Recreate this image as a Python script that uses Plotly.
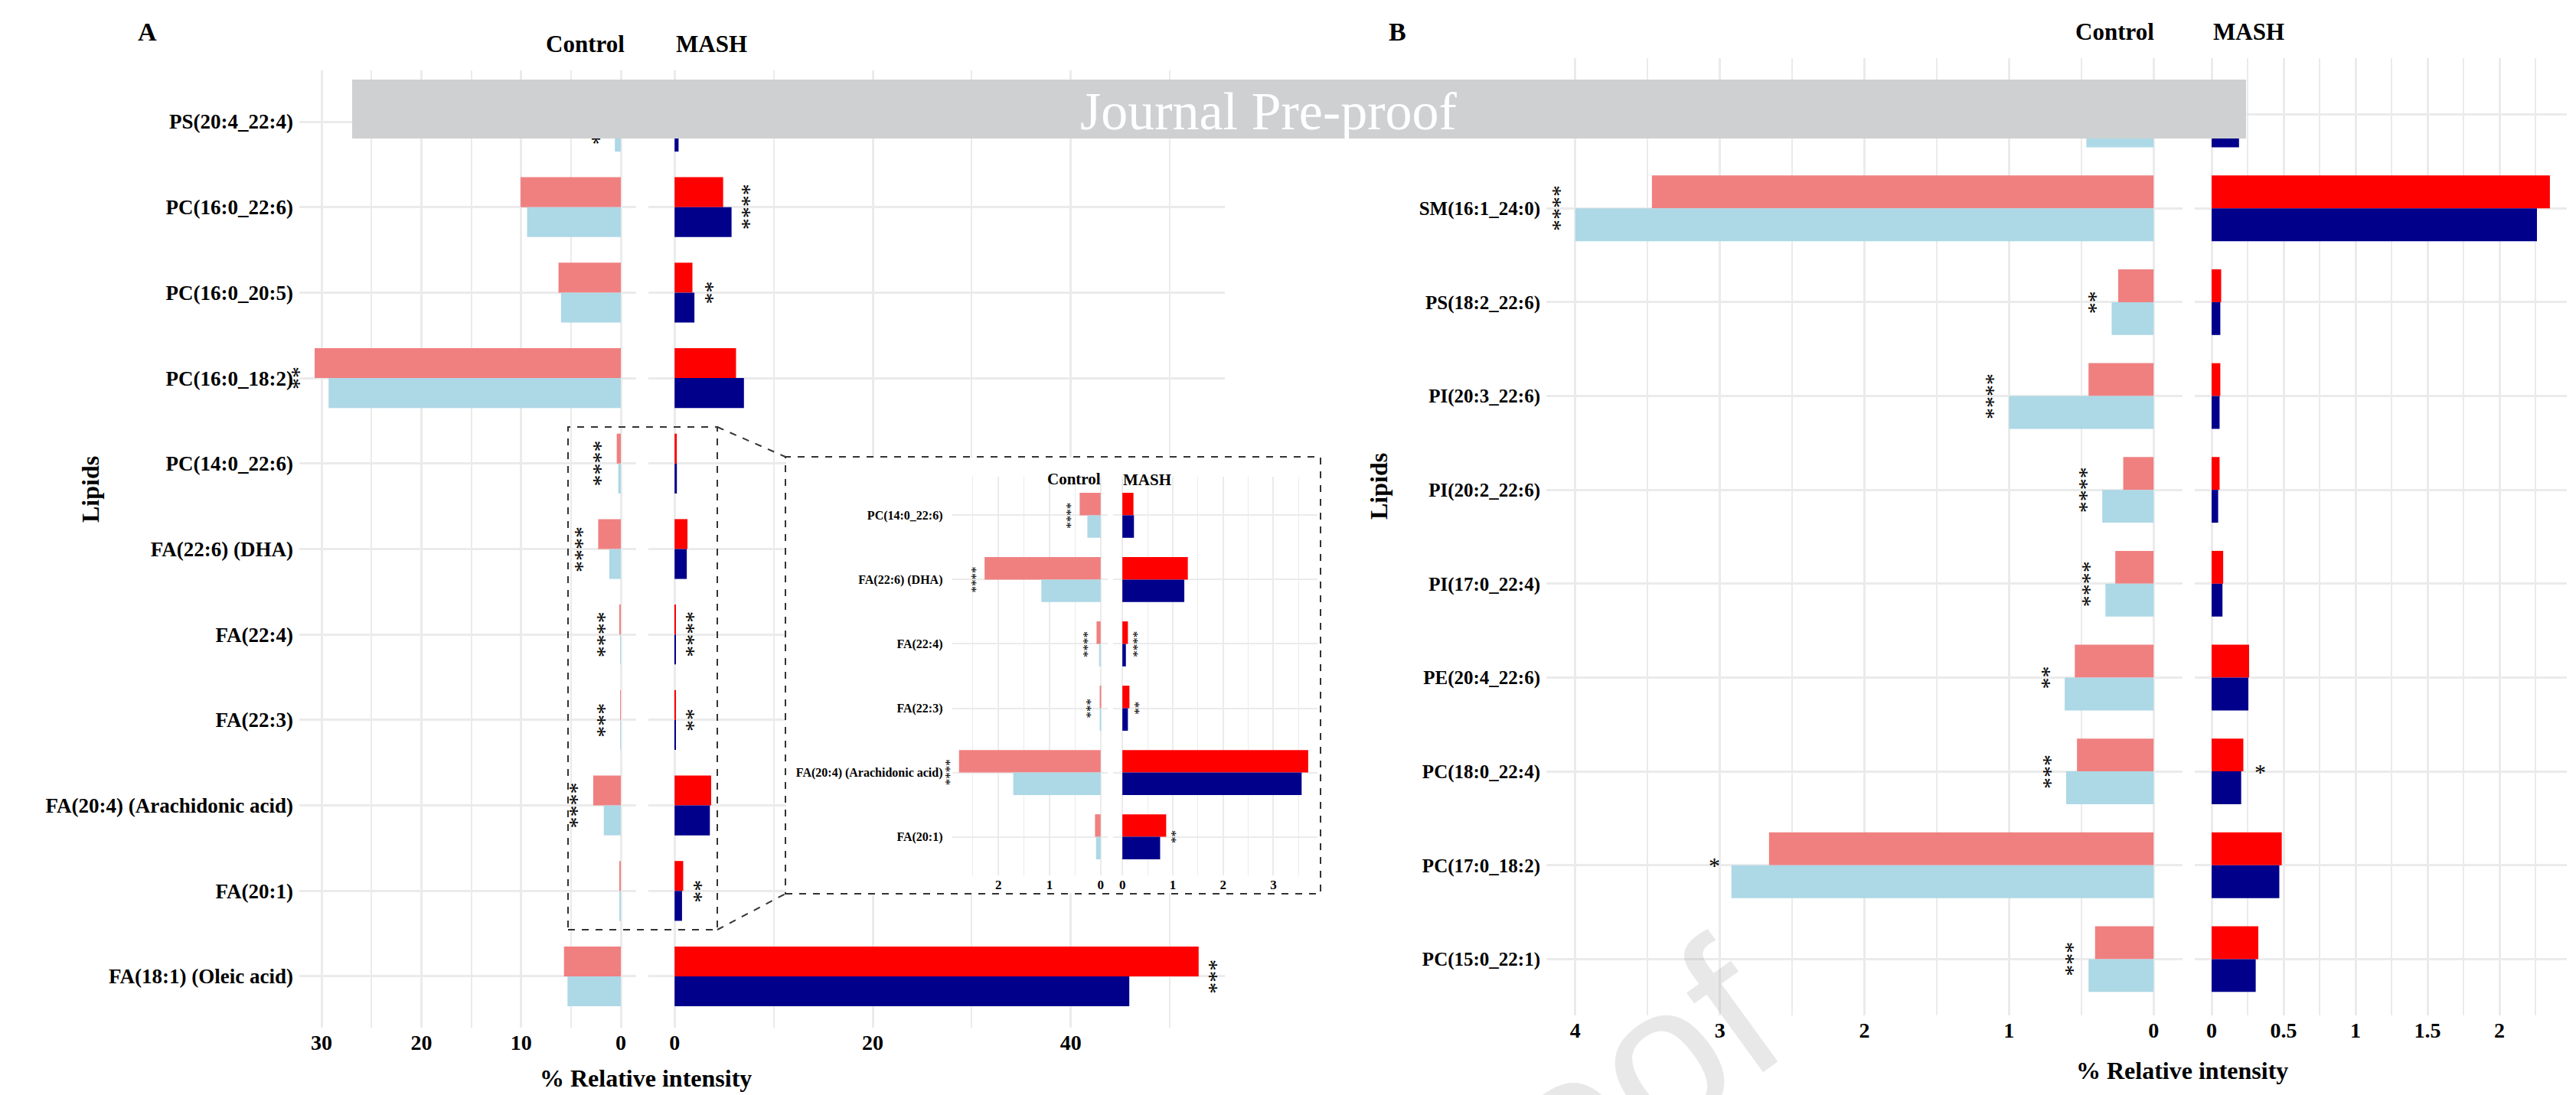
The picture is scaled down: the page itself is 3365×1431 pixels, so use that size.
import plotly.graph_objects as go

W, H = 3365, 1431
FONT = "Liberation Serif"
GRID = "#EBEBEB"
C_SALMON, C_LBLUE, C_RED, C_DBLUE = "#F08080", "#ADD8E6", "#FF0000", "#00008B"

# ---------------- Panel A data (top to bottom) ----------------
lipids_a = ["PS(20:4_22:4)", "PC(16:0_22:6)", "PC(16:0_20:5)", "PC(16:0_18:2)", "PC(14:0_22:6)",
            "FA(22:6) (DHA)", "FA(22:4)", "FA(22:3)", "FA(20:4) (Arachidonic acid)", "FA(20:1)",
            "FA(18:1) (Oleic acid)"]
ctrl_a_1 = [0.5, 10.05, 6.25, 30.7, 0.41, 2.27, 0.08, 0.012, 2.77, 0.11, 5.7]
ctrl_a_2 = [0.6, 9.4, 6.0, 29.3, 0.26, 1.16, 0.03, 0.006, 1.71, 0.09, 5.35]
mash_a_1 = [0.3, 4.9, 1.8, 6.2, 0.22, 1.30, 0.11, 0.14, 3.69, 0.87, 52.9]
mash_a_2 = [0.4, 5.75, 2.0, 7.0, 0.23, 1.23, 0.07, 0.11, 3.56, 0.75, 45.9]
sig_ctrl_a = ["****", "", "", "**", "****", "****", "****", "***", "****", "", ""]
sig_mash_a = ["", "****", "**", "", "", "", "****", "**", "", "**", "***"]
inset_idx = [4, 5, 6, 7, 8, 9]

# ---------------- Panel B data (top to bottom) ----------------
lipids_b = ["PS(20:4_22:6)", "SM(16:1_24:0)", "PS(18:2_22:6)", "PI(20:3_22:6)", "PI(20:2_22:6)",
            "PI(17:0_22:4)", "PE(20:4_22:6)", "PC(18:0_22:4)", "PC(17:0_18:2)", "PC(15:0_22:1)"]
ctrl_b_1 = [0.35, 3.47, 0.245, 0.45, 0.21, 0.265, 0.545, 0.53, 2.66, 0.405]
ctrl_b_2 = [0.465, 4.0, 0.29, 1.0, 0.355, 0.333, 0.615, 0.605, 2.92, 0.45]
mash_b_1 = [0.15, 2.35, 0.066, 0.06, 0.055, 0.08, 0.26, 0.22, 0.487, 0.324]
mash_b_2 = [0.19, 2.26, 0.06, 0.055, 0.045, 0.075, 0.255, 0.205, 0.47, 0.306]
sig_ctrl_b = ["", "****", "**", "****", "****", "****", "**", "***", "*", "***"]
sig_mash_b = ["", "", "", "", "", "", "", "*", "", ""]


def px(x):
    return x / W


def py(y):
    return 1 - y / H


def bold(size, color="black"):
    return dict(family=FONT, size=size, color=color, weight="bold")


def xrange_rev(vals):
    m = max(vals)
    return [m * 1.05, -0.05 * m]


def xrange_fwd(vals):
    m = max(vals)
    return [-0.05 * m, m * 1.05]


def xax(dom, rng, dtick, anchor, size=28, gw=3, mgw=2):
    return dict(domain=[px(dom[0]), px(dom[1])], range=rng, tickmode="linear", tick0=0, dtick=dtick,
                showgrid=True, gridcolor=GRID, gridwidth=gw,
                minor=dict(tickmode="linear", tick0=0, dtick=dtick / 2, showgrid=True,
                           gridcolor=GRID, gridwidth=mgw),
                zeroline=False, showline=False, ticks="", anchor=anchor,
                tickfont=bold(size), fixedrange=True)


def yax(dom, cats, anchor, show, size=27, gw=3, standoff=7):
    n = len(cats)
    return dict(domain=[py(dom[1]), py(dom[0])], type="category", categoryorder="array",
                categoryarray=cats, range=[n - 1 + 0.6, -0.6], showgrid=True, gridcolor=GRID,
                gridwidth=gw, zeroline=False, showline=False, ticks="", showticklabels=show,
                anchor=anchor, tickfont=bold(size), fixedrange=True, ticklabelstandoff=standoff)


fig = go.Figure()


def add_pair(cats, v1, v2, c1, c2, xa, ya):
    fig.add_trace(go.Bar(y=cats, x=v1, orientation="h", marker=dict(color=c1, line=dict(width=0)),
                         xaxis=xa, yaxis=ya, showlegend=False))
    fig.add_trace(go.Bar(y=cats, x=v2, orientation="h", marker=dict(color=c2, line=dict(width=0)),
                         xaxis=xa, yaxis=ya, showlegend=False))


ins_cats = [lipids_a[i] for i in inset_idx]
ins_c1 = [ctrl_a_1[i] for i in inset_idx]
ins_c2 = [ctrl_a_2[i] for i in inset_idx]
ins_m1 = [mash_a_1[i] for i in inset_idx]
ins_m2 = [mash_a_2[i] for i in inset_idx]
ins_sc = [sig_ctrl_a[i] for i in inset_idx]
ins_sm = [sig_mash_a[i] for i in inset_idx]

add_pair(lipids_a, ctrl_a_1, ctrl_a_2, C_SALMON, C_LBLUE, "x", "y")
add_pair(lipids_a, mash_a_1, mash_a_2, C_RED, C_DBLUE, "x2", "y2")
add_pair(lipids_b, ctrl_b_1, ctrl_b_2, C_SALMON, C_LBLUE, "x3", "y3")
add_pair(lipids_b, mash_b_1, mash_b_2, C_RED, C_DBLUE, "x4", "y4")
add_pair(ins_cats, ins_c1, ins_c2, C_SALMON, C_LBLUE, "x5", "y5")
add_pair(ins_cats, ins_m1, ins_m2, C_RED, C_DBLUE, "x6", "y6")

# pixel boxes of the plotting areas
A_C, A_M, A_Y = (391, 831), (847, 1600), (92, 1343)
B_C, B_M, B_Y = (2020, 2851), (2867, 3353), (76, 1327)
I_C, I_M, I_Y = (1243.5, 1447), (1454, 1721), (623, 1144)

rng_a_m = xrange_fwd(mash_a_1 + mash_a_2)
fig.update_layout(
    xaxis=xax(A_C, xrange_rev(ctrl_a_1 + ctrl_a_2), 10, "y"),
    yaxis=yax(A_Y, lipids_a, "x", True),
    xaxis2=xax(A_M, rng_a_m, 20, "y2"),
    yaxis2=yax(A_Y, lipids_a, "x2", False),
    xaxis3=xax(B_C, xrange_rev(ctrl_b_1 + ctrl_b_2), 1, "y3"),
    yaxis3=yax(B_Y, lipids_b, "x3", True, size=25),
    xaxis4=xax(B_M, xrange_fwd(mash_b_1 + mash_b_2), 0.5, "y4"),
    yaxis4=yax(B_Y, lipids_b, "x4", False),
    xaxis5=xax(I_C, xrange_rev(ins_c1 + ins_c2), 1, "y5", size=17, gw=1.5, mgw=1.2),
    yaxis5=yax(I_Y, ins_cats, "x5", True, size=16, gw=1.5, standoff=11),
    xaxis6=xax(I_M, xrange_fwd(ins_m1 + ins_m2), 1, "y6", size=17, gw=1.5, mgw=1.2),
    yaxis6=yax(I_Y, ins_cats, "x6", False, gw=1.5),
)

ann = []


def txt(x, y, s, size, angle=0, color="black", weight="bold"):
    ann.append(dict(x=px(x), y=py(y), xref="paper", yref="paper", text=s, showarrow=False,
                    textangle=angle, xanchor="center", yanchor="middle",
                    font=dict(family=FONT, size=size, color=color, weight=weight)))


def stars(cats, v1, v2, sig, xa, ya, side, shift, size):
    for c, a, b, s in zip(cats, v1, v2, sig):
        if not s:
            continue
        ann.append(dict(x=max(a, b), y=c, xref=xa, yref=ya, text=s, showarrow=False,
                        textangle=-90 if len(s) > 1 else 0, xanchor="center", yanchor="middle",
                        xshift=side * shift, font=dict(family=FONT, size=size, color="black")))


stars(lipids_a, ctrl_a_1, ctrl_a_2, sig_ctrl_a, "x", "y", -1, 22, 30)
stars(lipids_a, mash_a_1, mash_a_2, sig_mash_a, "x2", "y2", 1, 22, 30)
stars(lipids_b, ctrl_b_1, ctrl_b_2, sig_ctrl_b, "x3", "y3", -1, 22, 30)
stars(lipids_b, mash_b_1, mash_b_2, sig_mash_b, "x4", "y4", 1, 22, 30)
stars(ins_cats, ins_c1, ins_c2, ins_sc, "x5", "y5", -1, 12, 17)
stars(ins_cats, ins_m1, ins_m2, ins_sm, "x6", "y6", 1, 12, 17)

# panel letters, group titles, axis titles
txt(192, 41, "A", 34)
txt(1826, 42, "B", 34)
txt(764, 58, "Control", 31)
txt(929, 58, "MASH", 31)
txt(2762, 41, "Control", 31)
txt(2937, 42, "MASH", 31)
txt(1403, 626, "Control", 21)
txt(1498, 627, "MASH", 21)
txt(118, 640, "Lipids", 32, angle=-90)
txt(1801, 636, "Lipids", 32, angle=-90)
txt(843, 1409, "% Relative intensity", 32)
txt(2850, 1399, "% Relative intensity", 32)

# watermark (mostly outside the canvas)
ann.append(dict(x=px(1446), y=py(1909), xref="paper", yref="paper", text="Journal Pre-proof",
                showarrow=False, textangle=-36, xanchor="center", yanchor="middle",
                font=dict(family="Liberation Sans", size=270, color="rgba(150,150,150,0.22)")))

# grey banner on top of everything
ann.append(dict(x=px((460 + 2934) / 2), y=py((104 + 181) / 2), xref="paper", yref="paper", text=" ",
                showarrow=False, width=2934 - 460, height=181 - 104, bgcolor="#CFD0D2",
                borderpad=0, borderwidth=0, xanchor="center", yanchor="middle"))
ann.append(dict(x=px(1657), y=py(145), xref="paper", yref="paper", text="Journal Pre-proof",
                showarrow=False, xanchor="center", yanchor="middle",
                font=dict(family=FONT, size=70, color="white")))

# shapes: dashed zoom guides and the inset's white background
shapes = []
dash = dict(color="#333333", width=2, dash="dash")
shapes.append(dict(type="rect", xref="paper", yref="paper", x0=px(742), x1=px(937), y0=py(1215),
                   y1=py(558), line=dash, layer="above"))
shapes.append(dict(type="rect", xref="paper", yref="paper", x0=px(1026), x1=px(1725), y0=py(1168),
                   y1=py(597), line=dash, layer="above"))
shapes.append(dict(type="line", xref="paper", yref="paper", x0=px(937), y0=py(558), x1=px(1026),
                   y1=py(597), line=dash, layer="above"))
shapes.append(dict(type="line", xref="paper", yref="paper", x0=px(937), y0=py(1215), x1=px(1026),
                   y1=py(1168), line=dash, layer="above"))


def x2_of(p):
    return rng_a_m[0] + (p - A_M[0]) / (A_M[1] - A_M[0]) * (rng_a_m[1] - rng_a_m[0])


def y2_of(p):
    n = len(lipids_a)
    return -0.6 + (p - A_Y[0]) / (A_Y[1] - A_Y[0]) * (n - 1 + 1.2)


shapes.append(dict(type="rect", xref="x2", yref="y2", x0=x2_of(1027), x1=x2_of(1724),
                   y0=y2_of(598), y1=y2_of(1167), fillcolor="white", line=dict(width=0),
                   layer="between"))

fig.update_layout(
    width=W, height=H, autosize=False, margin=dict(l=0, r=0, t=0, b=0),
    paper_bgcolor="white", plot_bgcolor="white",
    barmode="group", bargap=0.3, bargroupgap=0,
    annotations=ann, shapes=shapes, font=dict(family=FONT),
)

fig.write_html("out.html", config={"displayModeBar": False},
               post_script="document.body.style.margin='0px';")
